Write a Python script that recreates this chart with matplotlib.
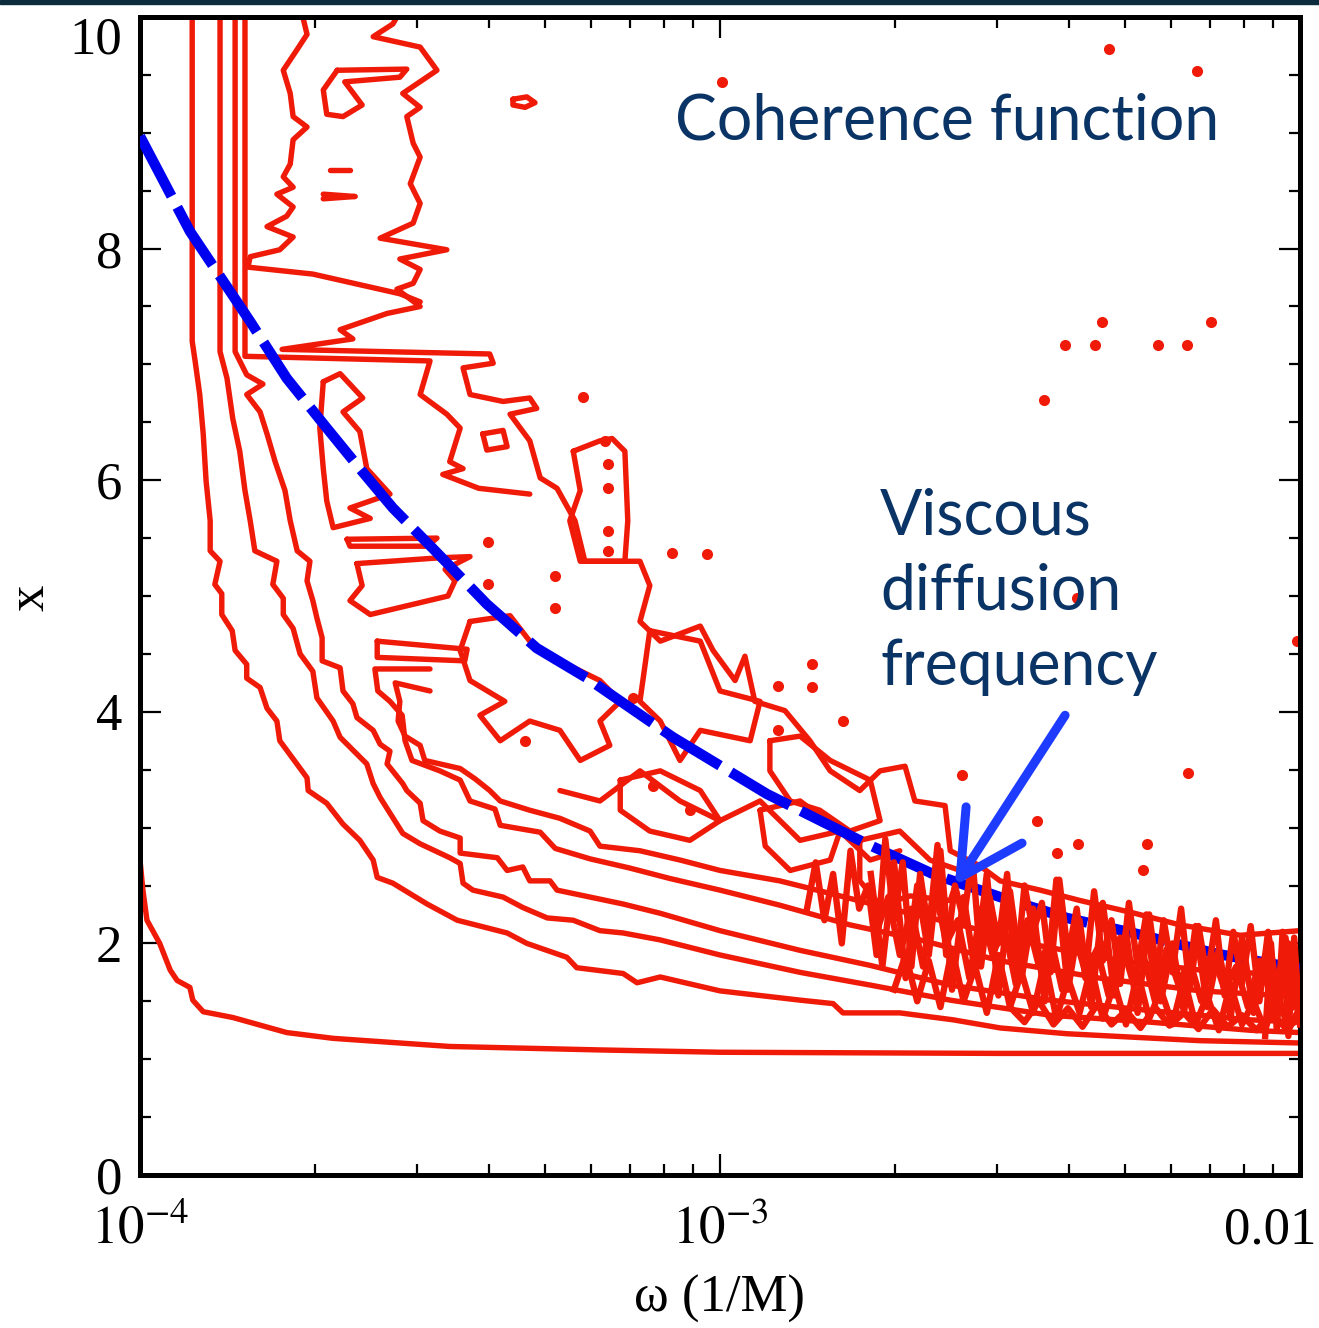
import matplotlib
matplotlib.use('Agg')
import matplotlib.pyplot as plt
import matplotlib.transforms as mtransforms
import numpy as np
from matplotlib.patches import FancyArrowPatch, Rectangle
from matplotlib.ticker import LogLocator, MultipleLocator, NullFormatter

# contour lines: log10(omega) and x
c1_lw = [-4.0, -3.995, -3.988, -3.966, -3.948, -3.936, -3.914, -3.909, -3.891, -3.84, -3.747, -3.667, -3.466, -3.207, -3.0, -2.517, -2.0]
c1_x = [2.72, 2.46, 2.20, 2.00, 1.77, 1.68, 1.62, 1.51, 1.41, 1.36, 1.23, 1.18, 1.11, 1.08, 1.06, 1.05, 1.05]

c2_lw = [-3.910, -3.910, -3.905, -3.897, -3.891, -3.886, -3.879, -3.879, -3.862, -3.871, -3.859, -3.859, -3.841, -3.836,
         -3.816, -3.816, -3.793, -3.781, -3.764, -3.759, -3.712, -3.710, -3.678, -3.650, -3.621, -3.598, -3.591, -3.564,
         -3.505, -3.453, -3.367, -3.333, -3.264, -3.247, -3.167, -3.143, -3.103, -3.0, -2.862, -2.805, -2.788, -2.690,
         -2.598, -2.517, -2.402, -2.288, -2.172, -2.0]
c2_x = [10.2, 7.20, 7.03, 6.74, 6.40, 5.99, 5.65, 5.39, 5.30, 5.10, 5.02, 4.84, 4.70, 4.53,
        4.41, 4.29, 4.21, 4.03, 3.92, 3.75, 3.43, 3.32, 3.21, 3.03, 2.89, 2.72, 2.57, 2.52,
        2.34, 2.20, 2.09, 2.00, 1.88, 1.79, 1.74, 1.66, 1.71, 1.59, 1.51, 1.48, 1.40, 1.40,
        1.34, 1.27, 1.22, 1.19, 1.16, 1.14]

c3_lw = [-3.862, -3.862, -3.850, -3.840, -3.828, -3.819, -3.810, -3.802, -3.764, -3.771, -3.753, -3.753, -3.736, -3.724,
         -3.702, -3.695, -3.667, -3.655, -3.609, -3.598, -3.586, -3.547, -3.517, -3.466, -3.448, -3.443, -3.426, -3.374,
         -3.340, -3.298, -3.253, -3.207, -3.167, -3.103, -3.0, -2.862, -2.741, -2.603, -2.431, -2.259, -2.086, -2.0]
c3_x = [10.2, 7.11, 6.88, 6.53, 6.25, 5.91, 5.65, 5.39, 5.30, 5.10, 4.98, 4.84, 4.72, 4.50,
        4.35, 4.12, 3.92, 3.78, 3.55, 3.38, 3.26, 2.95, 2.86, 2.74, 2.69, 2.52, 2.46, 2.40,
        2.31, 2.22, 2.20, 2.11, 2.09, 2.03, 1.90, 1.75, 1.64, 1.51, 1.38, 1.32, 1.25, 1.23]

c4_lw = [-3.836, -3.836, -3.816, -3.788, -3.816, -3.793, -3.781, -3.767, -3.750, -3.741, -3.729, -3.707, -3.712, -3.702,
         -3.695, -3.686, -3.686, -3.655, -3.650, -3.633, -3.626, -3.598, -3.586, -3.569, -3.574, -3.547, -3.540, -3.517,
         -3.512, -3.483, -3.448, -3.448, -3.384, -3.367, -3.340, -3.328, -3.293, -3.281, -3.224, -3.167, -3.103, -3.0,
         -2.862, -2.741, -2.603, -2.431, -2.259, -2.086, -2.0]
c4_x = [10.2, 7.11, 6.91, 6.83, 6.74, 6.59, 6.40, 6.16, 5.91, 5.65, 5.39, 5.30, 5.13, 4.96,
        4.81, 4.64, 4.44, 4.38, 4.18, 4.07, 3.95, 3.84, 3.72, 3.66, 3.55, 3.38, 3.32, 3.21,
        3.06, 2.97, 2.91, 2.78, 2.74, 2.63, 2.66, 2.54, 2.54, 2.46, 2.40, 2.34, 2.26, 2.11,
        1.94, 1.81, 1.64, 1.51, 1.42, 1.34, 1.32]

c5_lw = [-3.819, -3.819, -3.500, -3.517, -3.471, -3.448, -3.466, -3.443, -3.478, -3.416, -3.328]
c5_x = [10.2, 7.07, 7.03, 6.74, 6.57, 6.45, 6.16, 6.10, 6.05, 5.93, 5.88]

c6_lw = [-3.729, -3.712, -3.729, -3.753, -3.741, -3.736, -3.712, -3.736, -3.741, -3.753, -3.736, -3.764, -3.736, -3.747,
         -3.781, -3.736, -3.759, -3.810, -3.814, -3.702, -3.552, -3.517]
c6_x = [10.2, 9.85, 9.72, 9.54, 9.34, 9.14, 9.05, 8.94, 8.73, 8.62, 8.53, 8.47, 8.36, 8.28,
        8.19, 8.10, 7.99, 7.93, 7.84, 7.78, 7.61, 7.54]

b1_lw = [-3.534, -3.564, -3.598, -3.517, -3.488, -3.547, -3.517, -3.540, -3.529, -3.517, -3.534, -3.517, -3.529, -3.586,
         -3.471, -3.552, -3.517, -3.529, -3.557, -3.517, -3.574, -3.655, -3.633, -3.755, -3.397, -3.391, -3.443, -3.431,
         -3.374, -3.328, -3.316, -3.362, -3.328, -3.310, -3.281, -3.250, -3.233, -3.190, -3.138, -3.121, -3.138, -3.103,
         -3.034, -3.012, -2.974, -2.957, -2.940, -2.888, -2.845, -2.810, -2.759, -2.724, -2.681, -2.664, -2.612, -2.603,
         -2.552, -2.517, -2.448, -2.379, -2.293, -2.207, -2.103, -2.0]
b1_x = [10.2, 9.94, 9.83, 9.74, 9.54, 9.34, 9.22, 9.14, 8.91, 8.79, 8.56, 8.39, 8.22, 8.09,
        7.99, 7.91, 7.82, 7.70, 7.65, 7.50, 7.44, 7.30, 7.22, 7.13, 7.09, 7.01, 6.97, 6.74,
        6.68, 6.71, 6.62, 6.57, 6.34, 6.02, 5.93, 5.65, 5.30, 5.30, 5.30, 5.09, 4.78, 4.61,
        4.74, 4.53, 4.27, 4.48, 4.09, 4.01, 3.75, 3.49, 3.32, 3.49, 3.53, 3.23, 3.19, 2.80,
        2.67, 2.54, 2.46, 2.37, 2.27, 2.16, 2.07, 2.11]

d1_lw = [-3.5, -3.595, -3.590, -3.569, -3.548, -3.543, -3.531, -3.483, -3.448, -3.431, -3.388, -3.379, -3.310, -3.284,
         -3.224, -3.155, -3.086, -3.0, -2.897, -2.776, -2.655, -2.517, -2.345, -2.172, -2.0]
d1_x = [4.37, 4.37, 4.18, 4.09, 3.97, 3.75, 3.58, 3.49, 3.41, 3.23, 3.16, 3.02, 2.96, 2.82,
        2.73, 2.65, 2.56, 2.46, 2.33, 2.16, 2.03, 1.85, 1.70, 1.59, 1.54]

d2_lw = [-3.5, -3.560, -3.552, -3.555, -3.543, -3.517, -3.509, -3.448, -3.422, -3.397, -3.379, -3.328, -3.276, -3.224,
         -3.207, -3.138, -3.069, -3.0, -2.897, -2.793, -2.690, -2.586, -2.448, -2.310, -2.172, -2.0]
d2_x = [4.18, 4.25, 4.09, 3.92, 3.79, 3.71, 3.58, 3.51, 3.42, 3.32, 3.23, 3.15, 3.08, 2.97,
        2.84, 2.80, 2.72, 2.63, 2.54, 2.41, 2.28, 2.16, 1.98, 1.85, 1.77, 1.72]

d3_lw = [-3.276, -3.207, -3.138, -3.069, -3.0, -2.931, -2.862, -2.793, -2.741, -2.690]
d3_x = [3.32, 3.23, 3.49, 3.23, 3.06, 3.23, 2.89, 2.97, 2.72, 2.80]

# closed loops
loop1_lw = [-3.684, -3.655, -3.616, -3.650, -3.621, -3.609, -3.569, -3.638, -3.603, -3.667, -3.678, -3.684, -3.690, -3.684]
loop1_x = [6.85, 6.92, 6.71, 6.59, 6.42, 6.10, 5.88, 5.76, 5.67, 5.59, 5.82, 6.10, 6.45, 6.85]
loop2_lw = [-3.643, -3.488, -3.505, -3.638, -3.643]
loop2_x = [5.49, 5.50, 5.43, 5.43, 5.49]
loop3_lw = [-3.626, -3.483, -3.431, -3.474, -3.457, -3.469, -3.603, -3.638, -3.617, -3.626]
loop3_x = [5.28, 5.33, 5.34, 5.23, 5.13, 5.00, 4.84, 4.96, 5.09, 5.28]
loop4_lw = [-3.591, -3.436, -3.440, -3.591, -3.591]
loop4_x = [4.61, 4.54, 4.44, 4.47, 4.61]
loop5_lw = [-3.431, -3.362, -3.328, -3.276, -3.207, -3.172, -3.207, -3.190, -3.241, -3.276, -3.328, -3.379, -3.414, -3.371,
            -3.431, -3.448, -3.431]
loop5_x = [4.78, 4.83, 4.61, 4.44, 4.27, 4.09, 3.92, 3.71, 3.58, 3.84, 3.92, 3.75, 3.97, 4.09, 4.27, 4.53, 4.78]
loop6_lw = [-3.253, -3.207, -3.186, -3.164, -3.159, -3.164, -3.241, -3.259, -3.241, -3.253]
loop6_x = [6.25, 6.34, 6.36, 6.25, 5.65, 5.30, 5.30, 5.65, 5.91, 6.25]
loop7_lw = [-3.121, -3.034, -3.0, -2.931, -2.948, -3.034, -3.069, -3.103, -3.138, -3.121]
loop7_x = [4.70, 4.61, 4.18, 4.09, 3.75, 3.84, 3.58, 3.92, 4.09, 4.70]
loop8_lw = [-2.914, -2.862, -2.810, -2.741, -2.724, -2.776, -2.828, -2.879, -2.914, -2.914]
loop8_x = [3.75, 3.79, 3.58, 3.41, 3.06, 2.97, 3.15, 3.23, 3.49, 3.75]
loop9_lw = [-2.759, -2.690, -2.638, -2.586, -2.603, -2.672, -2.724, -2.759, -2.759]
loop9_x = [2.89, 2.97, 2.72, 2.63, 2.37, 2.41, 2.33, 2.54, 2.89]
loop10_lw = [-3.409, -3.374, -3.367, -3.402, -3.409]
loop10_x = [6.40, 6.43, 6.29, 6.26, 6.40]
loop11_lw = [-3.172, -3.103, -3.034, -3.0, -3.052, -3.121, -3.172, -3.172]
loop11_x = [3.41, 3.49, 3.32, 3.06, 2.89, 2.97, 3.15, 3.41]
loop12_lw = [-2.931, -2.862, -2.793, -2.810, -2.879, -2.922, -2.931]
loop12_x = [3.15, 3.23, 2.97, 2.72, 2.63, 2.84, 3.15]
hook_lw = [-3.660, -3.540, -3.552, -3.647, -3.617, -3.650, -3.678, -3.684, -3.660]
hook_x = [9.54, 9.55, 9.48, 9.44, 9.24, 9.14, 9.16, 9.37, 9.54]
blob_lw = [-3.357, -3.333, -3.319, -3.336, -3.357, -3.357]
blob_x = [9.29, 9.31, 9.26, 9.22, 9.24, 9.29]
dash1_lw = [-3.672, -3.638]
dash1_x = [8.68, 8.68]
dash2_lw = [-3.684, -3.629, -3.684]
dash2_x = [8.47, 8.45, 8.43]

# dense noisy region at high frequency
z1_lw = [-2.74, -2.72, -2.70, -2.68, -2.66, -2.64, -2.62, -2.60, -2.58, -2.56, -2.54, -2.52, -2.50, -2.48, -2.46, -2.44,
         -2.42, -2.40, -2.38, -2.36, -2.34, -2.32, -2.30, -2.28, -2.26, -2.24, -2.22, -2.20, -2.18, -2.16, -2.14, -2.12,
         -2.10, -2.08, -2.06, -2.04, -2.02, -2.00]
z1_x = [2.6, 1.8, 2.7, 1.7, 2.5, 1.9, 2.8, 1.6, 2.4, 1.75, 2.6, 1.55, 2.45, 1.7, 2.3, 1.5,
        2.55, 1.6, 2.2, 1.45, 2.35, 1.55, 2.1, 1.4, 2.25, 1.5, 2.0, 1.4, 2.15, 1.45, 1.95, 1.35,
        2.05, 1.4, 1.9, 1.35, 2.0, 1.4]
z2_lw = [-2.73, -2.71, -2.69, -2.67, -2.65, -2.63, -2.61, -2.59, -2.57, -2.55, -2.53, -2.51, -2.49, -2.47, -2.45, -2.43,
         -2.41, -2.39, -2.37, -2.35, -2.33, -2.31, -2.29, -2.27, -2.25, -2.23, -2.21, -2.19, -2.17, -2.15, -2.13, -2.11,
         -2.09, -2.07, -2.05, -2.03, -2.01]
z2_x = [2.1, 2.4, 1.9, 2.3, 1.8, 2.5, 2.0, 2.2, 1.7, 2.3, 1.9, 2.15, 1.65, 2.2, 1.8, 2.05,
        1.6, 2.1, 1.75, 1.95, 1.55, 2.05, 1.7, 1.9, 1.5, 1.95, 1.65, 1.85, 1.5, 1.9, 1.6, 1.8,
        1.45, 1.85, 1.55, 1.8, 1.45]
z3_lw = [-2.50, -2.475, -2.45, -2.425, -2.40, -2.375, -2.35, -2.325, -2.30, -2.275, -2.25, -2.225, -2.20, -2.175,
         -2.15, -2.125, -2.10, -2.075, -2.05, -2.025, -2.0]
z3_x = [1.45, 1.32, 1.5, 1.3, 1.44, 1.28, 1.47, 1.3, 1.42, 1.27, 1.45, 1.29, 1.4, 1.26,
        1.43, 1.28, 1.38, 1.25, 1.4, 1.27, 1.35]
z4_lw = [-2.06, -2.05, -2.04, -2.03, -2.02, -2.01, -2.0]
z4_x = [1.2, 2.0, 1.25, 2.1, 1.2, 2.05, 1.3]
z5_lw = [-2.85, -2.835, -2.82, -2.805, -2.79, -2.775, -2.76, -2.745, -2.73, -2.715, -2.70, -2.685, -2.67, -2.655,
         -2.64, -2.625, -2.61, -2.595, -2.58, -2.565, -2.55, -2.535, -2.52, -2.505, -2.49, -2.475, -2.46, -2.445,
         -2.43, -2.415, -2.40, -2.385, -2.37, -2.355, -2.34, -2.325, -2.31, -2.295, -2.28, -2.265, -2.25, -2.235,
         -2.22, -2.205, -2.19, -2.175, -2.16, -2.145, -2.13, -2.115, -2.10, -2.085, -2.07, -2.055, -2.04, -2.025, -2.01]
z5_x = [2.3, 2.7, 2.2, 2.6, 2.0, 2.8, 2.3, 2.5, 1.9, 2.9, 2.2, 2.7, 1.8, 2.6,
        2.1, 2.85, 1.9, 2.5, 2.2, 2.75, 1.8, 2.4, 2.0, 2.6, 1.7, 2.5, 2.1, 2.35,
        1.75, 2.55, 1.9, 2.3, 1.7, 2.45, 1.85, 2.2, 1.65, 2.35, 1.8, 2.25, 1.6, 2.2,
        1.75, 2.3, 1.6, 2.15, 1.7, 2.2, 1.55, 2.1, 1.65, 2.15, 1.5, 2.1, 1.6, 2.05, 1.5]
z6_lw = [-2.70, -2.68, -2.66, -2.64, -2.62, -2.60, -2.58, -2.56, -2.54, -2.52, -2.50, -2.48, -2.46, -2.44, -2.42, -2.40,
         -2.38, -2.36, -2.34, -2.32, -2.30, -2.28, -2.26, -2.24, -2.22, -2.20, -2.18, -2.16, -2.14, -2.12, -2.10, -2.08,
         -2.06, -2.04, -2.02, -2.00]
z6_x = [1.6, 1.9, 1.5, 1.85, 1.45, 1.95, 1.5, 1.8, 1.4, 1.9, 1.45, 1.75, 1.4, 1.85, 1.35, 1.7,
        1.4, 1.8, 1.35, 1.65, 1.3, 1.75, 1.35, 1.6, 1.3, 1.7, 1.3, 1.55, 1.25, 1.65, 1.3, 1.5,
        1.25, 1.6, 1.25, 1.45]

# isolated small islands
dot_lw = [-2.329, -2.178, -2.997, -2.405, -2.353, -2.341, -2.245, -2.195, -2.153, -2.441, -2.193, -2.384, -2.005,
          -3.236, -3.198, -3.193, -3.193, -3.193, -3.193, -3.083, -3.022, -3.40, -3.40, -3.284, -3.284, -3.15,
          -2.90, -2.841, -2.841, -2.788, -2.90, -3.052, -3.116, -3.336, -2.583, -2.453, -2.383, -2.264, -2.271, -2.419]
dot_x = [9.72, 9.53, 9.44, 7.17, 7.17, 7.37, 7.17, 7.17, 7.37, 6.69, 3.47, 4.98, 4.61,
         6.72, 6.34, 6.14, 5.93, 5.56, 5.39, 5.37, 5.36, 5.47, 5.10, 5.17, 4.90, 4.12,
         4.22, 4.41, 4.21, 3.92, 3.84, 3.15, 3.36, 3.75, 3.45, 3.06, 2.86, 2.86, 2.63, 2.78]

# viscous diffusion frequency curve
visc_lw = [-4.0, -3.914, -3.810, -3.747, -3.678, -3.621, -3.564, -3.495, -3.402, -3.316, -3.229, -3.081, -2.919,
           -2.747, -2.633, -2.517, -2.402, -2.288, -2.143, -2.0]
visc_x = [8.97, 8.15, 7.37, 6.88, 6.45, 6.10, 5.76, 5.41, 4.93, 4.55, 4.29, 3.78, 3.29,
          2.86, 2.60, 2.40, 2.22, 2.09, 1.91, 1.78]

arrow_tail = (-2.405, 3.97)
arrow_tip = (-2.595, 2.50)

red = '#f01a08'
navy = '#0b3466'

plt.rcParams['font.family'] = ['Liberation Serif', 'DejaVu Serif']
plt.rcParams['mathtext.fontset'] = 'stix'

fig = plt.figure(figsize=(13.19, 13.28), dpi=100)
ax = fig.add_axes([140 / 1319, 153 / 1328, 1160 / 1319, 1158 / 1328])

lines = [(c1_lw, c1_x), (c2_lw, c2_x), (c3_lw, c3_x), (c4_lw, c4_x), (c5_lw, c5_x), (c6_lw, c6_x),
         (b1_lw, b1_x), (d1_lw, d1_x), (d2_lw, d2_x), (d3_lw, d3_x),
         (loop1_lw, loop1_x), (loop2_lw, loop2_x), (loop3_lw, loop3_x), (loop4_lw, loop4_x),
         (loop5_lw, loop5_x), (loop6_lw, loop6_x), (loop7_lw, loop7_x), (loop8_lw, loop8_x),
         (loop9_lw, loop9_x), (loop10_lw, loop10_x), (loop11_lw, loop11_x), (loop12_lw, loop12_x),
         (hook_lw, hook_x), (blob_lw, blob_x), (dash1_lw, dash1_x), (dash2_lw, dash2_x)]
for lw, xv in lines:
    ax.plot(10 ** np.array(lw), xv, color=red, lw=3.9, solid_joinstyle='round', solid_capstyle='round', zorder=2)

dense = [(z1_lw, z1_x), (z2_lw, z2_x), (z3_lw, z3_x), (z4_lw, z4_x), (z5_lw, z5_x), (z6_lw, z6_x)]
for lw, xv in dense:
    ax.plot(10 ** np.array(lw), xv, color=red, lw=4.6, solid_joinstyle='round', zorder=4)

ax.plot(10 ** np.array(dot_lw), dot_x, 'o', color=red, ms=8, mew=0, zorder=2)

ax.plot(10 ** np.array(visc_lw), visc_x, color='#0000f0', lw=7.5, dashes=(6.5, 1.2), dash_capstyle='butt', zorder=3)

arr = FancyArrowPatch((10 ** arrow_tail[0], arrow_tail[1]), (10 ** arrow_tip[0], arrow_tip[1]),
                      arrowstyle='->,head_length=45,head_width=24', mutation_scale=1,
                      lw=6.5, color='#1e3cff', shrinkA=0, shrinkB=0, zorder=5)
ax.add_patch(arr)

ax.set_xscale('log')
ax.set_xlim(1e-4, 1e-2)
ax.set_ylim(0, 10)

ax.set_xticks([1e-4, 1e-3, 1e-2], labels=[r'$10^{-4}$', r'$10^{-3}$', '0.01'], va='baseline')
ax.xaxis.set_minor_locator(LogLocator(base=10, subs=np.arange(2, 10)))
ax.xaxis.set_minor_formatter(NullFormatter())
ax.set_yticks([0, 2, 4, 6, 8, 10])
ax.yaxis.set_minor_locator(MultipleLocator(0.5))

ax.tick_params(which='both', direction='in', top=True, right=True, width=1.6, labelsize=38)
ax.tick_params(which='major', length=15)
ax.tick_params(which='minor', length=8)
ax.tick_params(axis='x', which='major', pad=49)
ax.tick_params(axis='y', which='major', pad=13)
for s in ax.spines.values():
    s.set_linewidth(3.6)

last = ax.get_xticklabels()[-1]
last.set_transform(last.get_transform() + mtransforms.ScaledTranslation(-0.3, 0, fig.dpi_scale_trans))
top = ax.get_yticklabels()[-1]
top.set_transform(top.get_transform() + mtransforms.ScaledTranslation(0, -0.18, fig.dpi_scale_trans))

fig.text(720 / 1319, 1 - 1312 / 1328, 'ω (1/M)', fontsize=38, ha='center', va='baseline')
fig.text(31 / 1319, 1 - 598 / 1328, 'x', fontsize=38, rotation=90, ha='center', va='center')

ax.text(0.461, 0.894, 'Coherence function', transform=ax.transAxes, fontsize=45,
        family=['Lato', 'DejaVu Sans'], color=navy, ha='left', va='baseline')
for txt, yy in [('Viscous', 0.553), ('diffusion', 0.488), ('frequency', 0.423)]:
    ax.text(0.638, yy, txt, transform=ax.transAxes, fontsize=45,
            family=['Lato', 'DejaVu Sans'], color=navy, ha='left', va='baseline')

fig.patches.append(Rectangle((0, 1 - 4 / 1328), 1, 4 / 1328, transform=fig.transFigure,
                             color='#0c2b3d', zorder=10))

fig.savefig('out.png', dpi=100)
